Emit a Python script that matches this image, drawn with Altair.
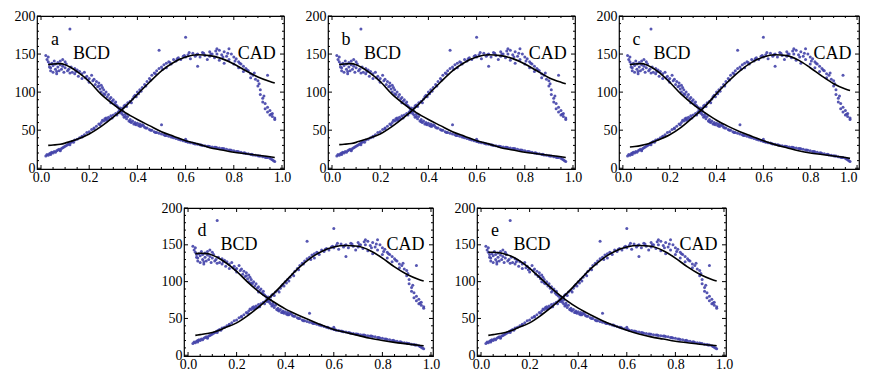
import altair as alt
import pandas as pd

# ---- scatter data (identical in all five panels) ----
BCD_X = [0.02, 0.025, 0.03, 0.03, 0.035, 0.04, 0.04, 0.045, 0.05, 0.05, 0.055, 0.06, 0.06, 0.065, 0.07, 0.07,
         0.075, 0.08, 0.08, 0.085, 0.09, 0.09, 0.095, 0.1, 0.1, 0.105, 0.11, 0.12, 0.12, 0.125, 0.13, 0.14, 0.14,
         0.15, 0.155, 0.16, 0.17, 0.17, 0.18, 0.185, 0.19, 0.2, 0.2, 0.21, 0.215, 0.22, 0.225, 0.23, 0.235, 0.24,
         0.245, 0.25, 0.25, 0.255, 0.26, 0.265, 0.27, 0.275, 0.28, 0.285, 0.29, 0.295, 0.3, 0.305, 0.31, 0.315,
         0.32, 0.325, 0.33, 0.33, 0.335, 0.34, 0.34, 0.345, 0.35, 0.355, 0.36, 0.365, 0.37, 0.375, 0.38, 0.385,
         0.39, 0.395, 0.4, 0.405, 0.41, 0.415, 0.42, 0.43, 0.44, 0.45, 0.46, 0.47, 0.48, 0.49, 0.5, 0.5, 0.51,
         0.52, 0.53, 0.54, 0.55, 0.56, 0.57, 0.58, 0.59, 0.6, 0.6, 0.61, 0.62, 0.63, 0.64, 0.65, 0.66, 0.67, 0.68,
         0.69, 0.7, 0.71, 0.72, 0.73, 0.74, 0.75, 0.76, 0.77, 0.78, 0.79, 0.8, 0.81, 0.82, 0.83, 0.84, 0.85, 0.86,
         0.87, 0.88, 0.89, 0.9, 0.91, 0.92, 0.93, 0.94, 0.95, 0.96, 0.97,
         0.035, 0.065, 0.115, 0.145, 0.195, 0.24, 0.26, 0.29, 0.31, 0.33, 0.35, 0.37, 0.39, 0.41, 0.425, 0.435,
         0.455, 0.475, 0.515, 0.545, 0.575, 0.605, 0.635, 0.665, 0.695, 0.725, 0.755, 0.785, 0.815, 0.845,
         0.875, 0.905, 0.935, 0.955, 0.965]
BCD_Y = [148, 143, 146, 140, 137, 132, 128, 138, 135, 126, 141, 130, 137, 124, 139, 133,
         128, 141, 136, 130, 143, 134, 126, 140, 132, 137, 128, 183, 125, 133, 126, 131, 124,
         129, 121, 127, 124, 118, 126, 119, 121, 118, 113, 122, 115, 117, 110, 114, 107, 112,
         104, 109, 100, 106, 103, 97, 100, 94, 97, 91, 93, 88, 90, 85, 87, 82,
         80, 77, 74, 79, 72, 70, 75, 67, 71, 65, 68, 62, 64, 60, 62, 58,
         60, 57, 59, 56, 58, 55, 57, 54, 53, 51, 50, 48, 47, 46, 57, 45, 44,
         43, 42, 41, 40, 39, 38, 37, 36, 38, 35, 34, 33.5, 33, 32, 31.5, 31, 30, 29.5,
         29, 28.5, 28, 27.5, 27, 26.5, 26, 25.5, 25, 24, 23.5, 23, 22, 21.5, 21, 20, 19.5, 19,
         18, 17.5, 17, 16.5, 16, 15, 14.5, 14, 13, 11, 9,
         133, 127, 130, 127, 116, 108, 98, 86, 83, 76, 68, 61, 58, 55, 56, 53,
         50, 47, 43, 41, 38, 35, 32.5, 30.5, 29, 27.5, 26, 24, 22, 20.5,
         18.5, 16, 14, 12, 10]

CAD_X = [0.02, 0.025, 0.03, 0.035, 0.04, 0.045, 0.05, 0.055, 0.06, 0.065, 0.07, 0.075, 0.08, 0.085, 0.09,
         0.095, 0.1, 0.105, 0.11, 0.115, 0.12, 0.125, 0.13, 0.135, 0.14, 0.15, 0.16, 0.17, 0.18, 0.19, 0.2,
         0.21, 0.22, 0.23, 0.24, 0.25, 0.255, 0.26, 0.265, 0.27, 0.275, 0.28, 0.285, 0.29, 0.3, 0.31, 0.315,
         0.32, 0.33, 0.34, 0.345, 0.35, 0.36, 0.37, 0.38, 0.385, 0.39, 0.4, 0.405, 0.41, 0.42, 0.43, 0.44,
         0.45, 0.46, 0.47, 0.48, 0.49, 0.49, 0.5, 0.51, 0.52, 0.52, 0.53, 0.54, 0.55, 0.56, 0.57, 0.58, 0.59,
         0.6, 0.6, 0.61, 0.62, 0.63, 0.64, 0.65, 0.65, 0.66, 0.67, 0.68, 0.69, 0.7, 0.7, 0.71, 0.72, 0.73,
         0.73, 0.74, 0.74, 0.75, 0.76, 0.76, 0.77, 0.78, 0.78, 0.79, 0.8, 0.8, 0.81, 0.82, 0.82, 0.83, 0.84,
         0.84, 0.85, 0.86, 0.87, 0.87, 0.88, 0.89, 0.9, 0.9, 0.91, 0.91, 0.92, 0.92, 0.93, 0.93, 0.94, 0.94,
         0.94, 0.95, 0.95, 0.96, 0.96, 0.97, 0.97,
         0.04, 0.08, 0.12, 0.17, 0.22, 0.245, 0.27, 0.295, 0.325, 0.355, 0.375, 0.395, 0.415, 0.435, 0.455,
         0.475, 0.505, 0.535, 0.565, 0.595, 0.615, 0.645, 0.675, 0.705, 0.725, 0.755, 0.775, 0.805, 0.825,
         0.855, 0.885, 0.905, 0.925, 0.955]
CAD_Y = [16, 18, 17, 19, 18, 21, 20, 22, 21, 23, 24, 25, 24, 26, 27,
         28, 29, 30, 31, 32, 33, 34, 35, 34, 37, 38, 40, 42, 44, 47, 48,
         51, 53, 55, 58, 60, 63, 62, 65, 66, 64, 67, 65, 69, 70, 72, 70,
         74, 76, 79, 82, 83, 86, 88, 91, 94, 96, 100, 98, 103, 106, 110, 114,
         118, 122, 125, 128, 155, 131, 133, 136, 138, 132, 140, 137, 143, 141, 145, 143, 147,
         172, 146, 149, 144, 151, 147, 134, 150, 146, 152, 148, 143, 153, 147, 150, 145, 157,
         150, 155, 142, 149, 153, 138, 147, 157, 143, 150, 146, 137, 144, 140, 132, 137, 134,
         127, 131, 128, 124, 119, 122, 117, 115, 108, 103, 97, 92, 87, 85, 78, 122, 80,
         74, 76, 70, 68, 72, 64, 66,
         20, 23, 31, 41, 52, 57, 63, 66, 73, 81, 86, 94, 101, 108, 116,
         124, 130, 139, 144, 148, 152, 149, 151, 150, 154, 146, 151, 141, 138,
         129, 125, 111, 95, 71]

# ---- fitted curves, one pair per panel ----
CURVE_X = [0.03, 0.05, 0.08, 0.1, 0.12, 0.15, 0.2, 0.25, 0.3, 0.35, 0.4, 0.45, 0.5, 0.55, 0.6, 0.65,
           0.7, 0.75, 0.8, 0.85, 0.9, 0.95, 0.97]
BCD_FIT = {
    "a": [136, 137, 137.5, 136, 133, 127, 114, 97, 84, 73, 64, 56, 48, 42, 36, 32, 27, 24, 21, 19, 17, 15, 14],
    "b": [136, 137, 137.5, 136, 133, 127, 114, 97, 84, 73, 64, 56, 48, 42, 36, 32, 27, 24, 21, 19, 17, 15, 14],
    "c": [136, 137, 137.5, 136, 133, 127, 113, 97, 84, 73, 63, 55, 48, 42, 36, 31, 27, 23, 20, 18, 16, 14, 13],
    "d": [138, 138.5, 138, 136, 133, 127, 114, 98, 84, 73, 63, 55, 48, 41, 35, 31, 27, 23, 20, 17.5, 15.5, 13.5, 13],
    "e": [140, 140, 139, 137, 135, 130, 118, 103, 88, 75, 64, 55, 47, 40, 34, 29, 25, 22, 19, 17, 15, 13.5, 13],
}
CAD_FIT = {
    "a": [30, 30.5, 31.5, 33, 35, 38, 45, 55, 67, 81, 97, 113, 128, 139, 146, 149, 148, 144, 137, 128, 120, 114, 112],
    "b": [31, 31.5, 32.5, 34, 36, 39, 45, 55, 67, 81, 97, 113, 128, 139, 146, 149, 148, 144, 137, 128, 119, 113, 111],
    "c": [28, 28.5, 30, 31.5, 33.5, 37, 44, 54, 67, 81, 98, 114, 128, 139, 146, 149, 148, 142, 132, 121, 111, 104, 102],
    "d": [27, 28, 29.5, 31, 33, 37, 44, 55, 68, 83, 100, 117, 131, 141, 147, 149, 148, 142, 132, 120, 110, 103, 101],
    "e": [27, 28, 29.5, 31, 33, 37, 44, 55, 68, 83, 100, 117, 131, 141, 147, 149, 148, 142, 132, 120, 110, 103, 101],
}

X_MAJOR = [0.0, 0.2, 0.4, 0.6, 0.8, 1.0]
X_MINOR = [0.05, 0.1, 0.15, 0.25, 0.3, 0.35, 0.45, 0.5, 0.55, 0.65, 0.7, 0.75, 0.85, 0.9, 0.95]
Y_MAJOR = [0, 50, 100, 150, 200]
Y_MINOR = [10, 20, 30, 40, 60, 70, 80, 90, 110, 120, 130, 140, 160, 170, 180, 190]

FONT = "Liberation Serif"
PT_COLOR = "#4444aa"

pts = pd.concat([
    pd.DataFrame({"x": BCD_X, "y": BCD_Y, "s": "BCD"}),
    pd.DataFrame({"x": CAD_X, "y": CAD_Y, "s": "CAD"}),
])

xs = alt.Scale(domain=[-0.0166, 1.0083], nice=False, zero=False)
ys = alt.Scale(domain=[-1, 200], nice=False, zero=False)
YAXIS = alt.Axis(values=Y_MAJOR, title=None, grid=False, domain=False, ticks=False,
                 labelPadding=2, labelOverlap=False, labelFlush=False)


def panel(letter, W, H, last_right=False):
    curves = pd.concat([
        pd.DataFrame({"x": CURVE_X, "y": BCD_FIT[letter], "s": "BCD"}),
        pd.DataFrame({"x": CURVE_X, "y": CAD_FIT[letter], "s": "CAD"}),
    ])
    labels = pd.DataFrame({"x": [0.058, 0.21, 0.895], "y": [169, 150, 150],
                           "t": [letter, "BCD", "CAD"]})
    if last_right:
        xaxis = alt.Axis(values=X_MAJOR, format=".1f", title=None, grid=False, domain=False, ticks=False,
                         labelPadding=1, labelOverlap=False, labelFlush=False,
                         labelAlign={"condition": {"test": "datum.value >= 1", "value": "right"},
                                     "value": "center"})
    else:
        xaxis = alt.Axis(values=X_MAJOR, format=".1f", title=None, grid=False, domain=False, ticks=False,
                         labelPadding=1, labelOverlap=False, labelFlush=False)
    X = alt.X("x:Q", scale=xs, axis=xaxis)
    Y = alt.Y("y:Q", scale=ys, axis=YAXIS)
    base_pts = alt.Chart(pts).mark_circle(size=9, color=PT_COLOR, opacity=0.9).encode(x=X, y=Y)
    lines = alt.Chart(curves).mark_line(color="black", strokeWidth=1.6, interpolate="monotone").encode(
        x=X, y=Y, detail="s:N")
    txt = alt.Chart(labels).mark_text(font=FONT, fontSize=18, color="black").encode(
        x=X, y=Y, text="t:N")

    layers = [base_pts, lines, txt]
    for vals, ln in ((X_MAJOR, 4), (X_MINOR, 2)):
        d = pd.DataFrame({"x": vals})
        layers.append(alt.Chart(d).mark_rule(color="black", strokeWidth=1).encode(
            x=X, y=alt.value(H), y2=alt.value(H - ln)))
        layers.append(alt.Chart(d).mark_rule(color="black", strokeWidth=1).encode(
            x=X, y=alt.value(0), y2=alt.value(ln)))
    for vals, ln in ((Y_MAJOR, 4), (Y_MINOR, 2)):
        d = pd.DataFrame({"y": vals})
        layers.append(alt.Chart(d).mark_rule(color="black", strokeWidth=1).encode(
            y=Y, x=alt.value(0), x2=alt.value(ln)))
        layers.append(alt.Chart(d).mark_rule(color="black", strokeWidth=1).encode(
            y=Y, x=alt.value(W), x2=alt.value(W - ln)))
    return alt.layer(*layers).properties(
        width=W, height=H, view=alt.ViewBackground(stroke="black", strokeWidth=1.2))


spacer = alt.Chart(pd.DataFrame({"x": [0]})).mark_point(opacity=0).encode(
    x=alt.X("x:Q", axis=None), y=alt.Y("x:Q", axis=None)
).properties(width=110, height=148, view=alt.ViewBackground(stroke="transparent"))

top = alt.hconcat(panel("a", 247, 153), panel("b", 247, 153), panel("c", 240, 153, last_right=True),
                  spacing=12)
bottom = alt.hconcat(spacer, panel("d", 249, 148), panel("e", 249, 148), spacing=12)

chart = alt.vconcat(top, bottom, spacing=15).properties(
    padding={"left": 5, "top": 0, "right": 0, "bottom": 0}
).configure(background="white").configure_axis(
    labelFont=FONT, labelFontSize=14, labelColor="black"
)

chart.save("out.html", embed_options={"renderer": "svg", "actions": False})
